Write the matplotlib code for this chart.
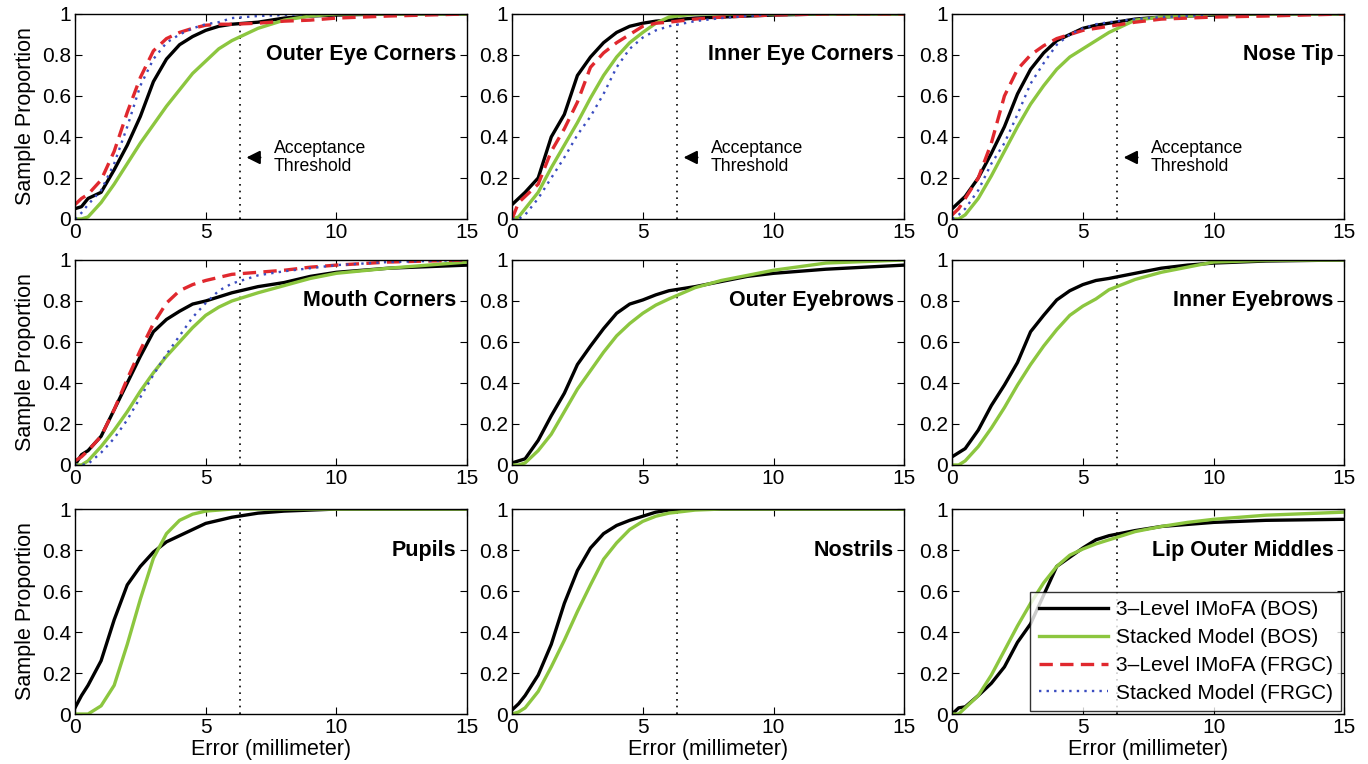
import numpy as np
import matplotlib
matplotlib.use('Agg')
import matplotlib.pyplot as plt

plt.rcParams['font.family'] = ['Liberation Sans', 'DejaVu Sans']

# error grid (mm) the curves were read at
err = [0, 0.25, 0.5, 1, 1.5, 2, 2.5, 3, 3.5, 4, 4.5, 5, 5.5, 6, 7, 8, 9, 10, 12, 15]

# Outer Eye Corners
outer_eye_imofa_bos = [0.05, 0.06, 0.10, 0.13, 0.24, 0.36, 0.50, 0.67, 0.78, 0.85, 0.89, 0.92, 0.94, 0.95, 0.96, 0.98, 0.99, 0.995, 1.0, 1.0]
outer_eye_stacked_bos = [0.0, 0.0, 0.01, 0.08, 0.17, 0.27, 0.37, 0.46, 0.55, 0.63, 0.71, 0.77, 0.83, 0.87, 0.93, 0.97, 0.99, 1.0, 1.0, 1.0]
outer_eye_imofa_frgc = [0.07, 0.10, 0.12, 0.19, 0.33, 0.52, 0.69, 0.82, 0.88, 0.91, 0.93, 0.945, 0.95, 0.95, 0.955, 0.965, 0.97, 0.98, 0.99, 1.0]
outer_eye_stacked_frgc = [0.0, 0.03, 0.07, 0.14, 0.27, 0.45, 0.65, 0.78, 0.86, 0.90, 0.93, 0.95, 0.96, 0.98, 0.99, 0.995, 1.0, 1.0, 1.0, 1.0]

# Inner Eye Corners
inner_eye_imofa_bos = [0.07, 0.10, 0.13, 0.20, 0.40, 0.51, 0.70, 0.79, 0.86, 0.91, 0.94, 0.955, 0.965, 0.97, 0.98, 0.985, 0.99, 0.995, 1.0, 1.0]
inner_eye_stacked_bos = [0.0, 0.01, 0.05, 0.13, 0.25, 0.36, 0.47, 0.59, 0.70, 0.79, 0.86, 0.91, 0.955, 0.985, 1.0, 1.0, 1.0, 1.0, 1.0, 1.0]
inner_eye_imofa_frgc = [0.0, 0.08, 0.11, 0.17, 0.33, 0.44, 0.57, 0.74, 0.81, 0.86, 0.90, 0.94, 0.955, 0.96, 0.975, 0.985, 0.99, 0.995, 1.0, 1.0]
inner_eye_stacked_frgc = [0.0, 0.0, 0.02, 0.10, 0.20, 0.30, 0.41, 0.50, 0.61, 0.74, 0.83, 0.885, 0.92, 0.94, 0.965, 0.98, 0.99, 1.0, 1.0, 1.0]

# Nose Tip
nose_imofa_bos = [0.05, 0.08, 0.11, 0.20, 0.32, 0.45, 0.61, 0.73, 0.81, 0.87, 0.90, 0.93, 0.945, 0.955, 0.975, 0.985, 0.99, 0.995, 1.0, 1.0]
nose_stacked_bos = [0.0, 0.0, 0.02, 0.10, 0.21, 0.33, 0.45, 0.56, 0.65, 0.73, 0.79, 0.83, 0.87, 0.91, 0.97, 0.985, 0.99, 1.0, 1.0, 1.0]
nose_imofa_frgc = [0.02, 0.05, 0.10, 0.20, 0.37, 0.60, 0.73, 0.80, 0.845, 0.88, 0.90, 0.92, 0.93, 0.94, 0.96, 0.975, 0.98, 0.985, 0.99, 1.0]
nose_stacked_frgc = [0.0, 0.02, 0.05, 0.14, 0.27, 0.37, 0.51, 0.66, 0.76, 0.85, 0.90, 0.93, 0.95, 0.96, 0.975, 0.985, 0.99, 1.0, 1.0, 1.0]

# Mouth Corners
mouth_imofa_bos = [0.0, 0.05, 0.07, 0.14, 0.27, 0.40, 0.53, 0.65, 0.71, 0.75, 0.785, 0.80, 0.82, 0.84, 0.87, 0.89, 0.92, 0.94, 0.96, 0.975]
mouth_stacked_bos = [0.0, 0.0, 0.02, 0.09, 0.17, 0.26, 0.36, 0.45, 0.53, 0.60, 0.67, 0.73, 0.77, 0.80, 0.84, 0.875, 0.91, 0.935, 0.96, 0.99]
mouth_imofa_frgc = [0.02, 0.04, 0.07, 0.14, 0.27, 0.42, 0.56, 0.69, 0.79, 0.85, 0.88, 0.90, 0.915, 0.93, 0.94, 0.95, 0.965, 0.975, 0.99, 1.0]
mouth_stacked_frgc = [0.0, 0.0, 0.005, 0.06, 0.13, 0.22, 0.33, 0.44, 0.54, 0.63, 0.72, 0.79, 0.85, 0.885, 0.925, 0.945, 0.96, 0.975, 0.99, 1.0]

# Outer Eyebrows
outer_brow_imofa_bos = [0.01, 0.02, 0.03, 0.12, 0.24, 0.35, 0.49, 0.58, 0.665, 0.74, 0.785, 0.805, 0.83, 0.85, 0.87, 0.895, 0.92, 0.935, 0.955, 0.975]
outer_brow_stacked_bos = [0.0, 0.0, 0.01, 0.07, 0.15, 0.26, 0.37, 0.46, 0.55, 0.63, 0.69, 0.74, 0.78, 0.81, 0.865, 0.90, 0.925, 0.95, 0.985, 1.0]

# Inner Eyebrows
inner_brow_imofa_bos = [0.04, 0.06, 0.08, 0.17, 0.29, 0.39, 0.50, 0.65, 0.73, 0.805, 0.85, 0.88, 0.90, 0.91, 0.935, 0.96, 0.975, 0.985, 0.995, 1.0]
inner_brow_stacked_bos = [0.0, 0.0, 0.02, 0.09, 0.18, 0.28, 0.39, 0.49, 0.58, 0.66, 0.73, 0.775, 0.81, 0.855, 0.905, 0.94, 0.965, 0.99, 0.998, 1.0]

# Pupils
pupil_imofa_bos = [0.03, 0.09, 0.14, 0.26, 0.46, 0.63, 0.72, 0.79, 0.84, 0.87, 0.90, 0.93, 0.945, 0.96, 0.98, 0.99, 0.995, 1.0, 1.0, 1.0]
pupil_stacked_bos = [0.0, 0.0, 0.0, 0.04, 0.14, 0.34, 0.56, 0.76, 0.88, 0.945, 0.975, 0.99, 0.995, 1.0, 1.0, 1.0, 1.0, 1.0, 1.0, 1.0]

# Nostrils
nostril_imofa_bos = [0.02, 0.05, 0.09, 0.19, 0.34, 0.54, 0.70, 0.81, 0.88, 0.92, 0.945, 0.965, 0.985, 0.995, 1.0, 1.0, 1.0, 1.0, 1.0, 1.0]
nostril_stacked_bos = [0.0, 0.01, 0.03, 0.11, 0.23, 0.36, 0.50, 0.63, 0.755, 0.835, 0.90, 0.94, 0.965, 0.98, 0.995, 1.0, 1.0, 1.0, 1.0, 1.0]

# Lip Outer Middles
lip_imofa_bos = [0.0, 0.03, 0.035, 0.09, 0.15, 0.23, 0.35, 0.44, 0.58, 0.72, 0.765, 0.81, 0.85, 0.87, 0.895, 0.915, 0.925, 0.935, 0.945, 0.95]
lip_stacked_bos = [0.0, 0.0, 0.03, 0.09, 0.19, 0.31, 0.43, 0.54, 0.64, 0.72, 0.775, 0.805, 0.83, 0.85, 0.89, 0.915, 0.935, 0.95, 0.97, 0.985]

titles = ['Outer Eye Corners', 'Inner Eye Corners', 'Nose Tip',
          'Mouth Corners', 'Outer Eyebrows', 'Inner Eyebrows',
          'Pupils', 'Nostrils', 'Lip Outer Middles']
panels = [
    [outer_eye_imofa_bos, outer_eye_stacked_bos, outer_eye_imofa_frgc, outer_eye_stacked_frgc],
    [inner_eye_imofa_bos, inner_eye_stacked_bos, inner_eye_imofa_frgc, inner_eye_stacked_frgc],
    [nose_imofa_bos, nose_stacked_bos, nose_imofa_frgc, nose_stacked_frgc],
    [mouth_imofa_bos, mouth_stacked_bos, mouth_imofa_frgc, mouth_stacked_frgc],
    [outer_brow_imofa_bos, outer_brow_stacked_bos],
    [inner_brow_imofa_bos, inner_brow_stacked_bos],
    [pupil_imofa_bos, pupil_stacked_bos],
    [nostril_imofa_bos, nostril_stacked_bos],
    [lip_imofa_bos, lip_stacked_bos],
]
labels = ['3\u2013Level IMoFA (BOS)', 'Stacked Model (BOS)',
          '3\u2013Level IMoFA (FRGC)', 'Stacked Model (FRGC)']
threshold = 6.3

styles = [dict(color='black', lw=2.4, ls='-'),
          dict(color='#8cc63f', lw=2.4, ls='-'),
          dict(color='#e0282e', lw=2.4, ls=(0, (4, 2.2))),
          dict(color='#3a4cc0', lw=1.7, ls=(0, (1, 2.2)))]

fig = plt.figure(figsize=(13.68, 7.64), dpi=100)
lefts = [0.0548, 0.3743, 0.696]
bottoms = [0.7134, 0.3914, 0.0654]
w, h = 0.2867, 0.2683

axes = []
for i in range(9):
    r, c = divmod(i, 3)
    ax = fig.add_axes([lefts[c], bottoms[r], w, h])
    axes.append(ax)
    ax.axvline(threshold, color='black', ls=(0, (1, 3)), lw=1.2)
    for k, ys in enumerate(panels[i]):
        ax.plot(err, ys, label=labels[k], **styles[k])
    ax.set_xlim(0, 15)
    ax.set_ylim(0, 1)
    ax.set_xticks([0, 5, 10, 15])
    ax.set_yticks([0, 0.2, 0.4, 0.6, 0.8, 1])
    ax.set_yticklabels(['0', '0.2', '0.4', '0.6', '0.8', '1'])
    ax.tick_params(direction='in', top=True, right=True, labelsize=15, length=5, pad=3)
    for s in ax.spines.values():
        s.set_linewidth(1.0)
    ax.text(14.6, 0.8, titles[i], ha='right', va='center', fontsize=15.5, fontweight='bold')
    if c == 0:
        ax.set_ylabel('Sample Proportion', fontsize=15.5, labelpad=4)
    if r == 2:
        ax.set_xlabel('Error (millimeter)', fontsize=15.5, labelpad=1)
    if r == 0:
        ax.annotate('', xy=(6.45, 0.3), xytext=(7.2, 0.3),
                    arrowprops=dict(arrowstyle='-|>', color='black', lw=1.5,
                                    mutation_scale=20))
        ax.text(7.6, 0.3, 'Acceptance\nThreshold', ha='left', va='center',
                fontsize=12.7, linespacing=1.05)

# legend with all four methods in the last panel
handles = [plt.Line2D([], [], **st) for st in styles]
leg = axes[8].legend(handles, labels, loc='lower right', fontsize=15,
                     frameon=True, fancybox=False, edgecolor='black',
                     handlelength=3.3, borderaxespad=0.15, labelspacing=0.42,
                     handletextpad=0.4, borderpad=0.4)
leg.get_frame().set_linewidth(1.0)

fig.savefig('out.png', dpi=100)
